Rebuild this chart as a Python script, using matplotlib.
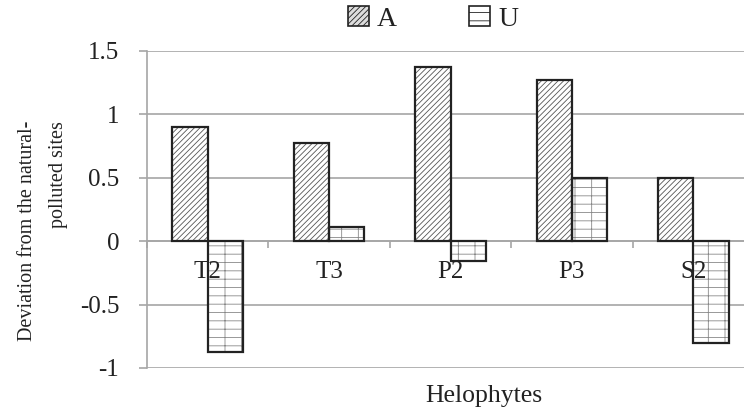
import numpy as np
import matplotlib.pyplot as plt
from matplotlib.patches import Patch

plt.rcParams['font.family'] = ['Liberation Serif', 'DejaVu Serif']
plt.rcParams['hatch.linewidth'] = 0.6

# data
categories = ['T2', 'T3', 'P2', 'P3', 'S2']
serie_a = [0.90, 0.77, 1.37, 1.27, 0.50]
serie_u = [-0.87, 0.11, -0.16, 0.50, -0.80]
yticks = [-1, -0.5, 0, 0.5, 1, 1.5]
ytick_labels = ['-1', '-0.5', '0', '0.5', '1', '1.5']

fig = plt.figure(figsize=(7.44, 4.12), dpi=100)
ax = fig.add_axes([147 / 744, 44 / 412, 607 / 744, 317.3 / 412])

x = np.arange(len(categories))
largura = 0.29
grid_cor = '#a6a6a6'
texto_cor = '#222222'

# hatch first (gray), then black outline on top
ax.bar(x - largura / 2, serie_a, largura, color='white', edgecolor='#555555',
       hatch='//////', linewidth=0, zorder=3)
ax.bar(x - largura / 2, serie_a, largura, fill=False, edgecolor=texto_cor,
       linewidth=1.6, zorder=4)
ax.bar(x + largura / 2, serie_u, largura, color='white', edgecolor='#888888',
       hatch='+-', linewidth=0, zorder=3)
ax.bar(x + largura / 2, serie_u, largura, fill=False, edgecolor=texto_cor,
       linewidth=1.6, zorder=4)

ax.set_xlim(-0.5, len(categories) - 0.5)
ax.set_ylim(-1, 1.5)
ax.set_yticks(yticks)
ax.set_yticklabels(ytick_labels)
ax.yaxis.grid(True, color=grid_cor, linewidth=1.2, zorder=0)
ax.set_axisbelow(True)

# x axis sits on zero
for s in ['top', 'right']:
    ax.spines[s].set_visible(False)
ax.spines['bottom'].set_position(('data', 0))
ax.spines['bottom'].set_color(grid_cor)
ax.spines['bottom'].set_linewidth(1.2)
ax.spines['left'].set_color(grid_cor)
ax.spines['left'].set_linewidth(1.2)

ax.set_xticks(np.arange(len(categories) + 1) - 0.5)
ax.set_xticklabels([])
ax.tick_params(axis='x', length=5, width=1.2, color=grid_cor, direction='out')
ax.tick_params(axis='y', length=6, width=1.2, color=grid_cor, pad=14,
               labelsize=18, labelcolor=texto_cor)

# category names drawn over the bars
for i, nome in enumerate(categories):
    ax.annotate(nome, (x[i], 0), xytext=(0, -22), textcoords='offset points',
                ha='center', va='center', fontsize=18, color=texto_cor, zorder=6)

fig.text(43 / 744, 1 - 231 / 412, 'Deviation from the natural-\npolluted sites',
         rotation=90, ha='center', va='center', multialignment='right',
         fontsize=14.5, color=texto_cor, linespacing=1.8)
fig.text(484 / 744, 1 - 396 / 412, 'Helophytes', ha='center', va='center',
         fontsize=18.5, color=texto_cor)

handles = [Patch(facecolor='#dddddd', edgecolor=texto_cor, hatch='//////', linewidth=1.2),
           Patch(facecolor='white', edgecolor=texto_cor, hatch='--', linewidth=1.2)]
fig.legend(handles, ['A', 'U'], loc='center', bbox_to_anchor=(433 / 744, 1 - 19 / 412), ncol=2,
           frameon=False, fontsize=20, handlelength=0.75, handleheight=0.75,
           handletextpad=0.3, columnspacing=2.6, labelcolor=texto_cor)

fig.savefig('out.png', dpi=100)
